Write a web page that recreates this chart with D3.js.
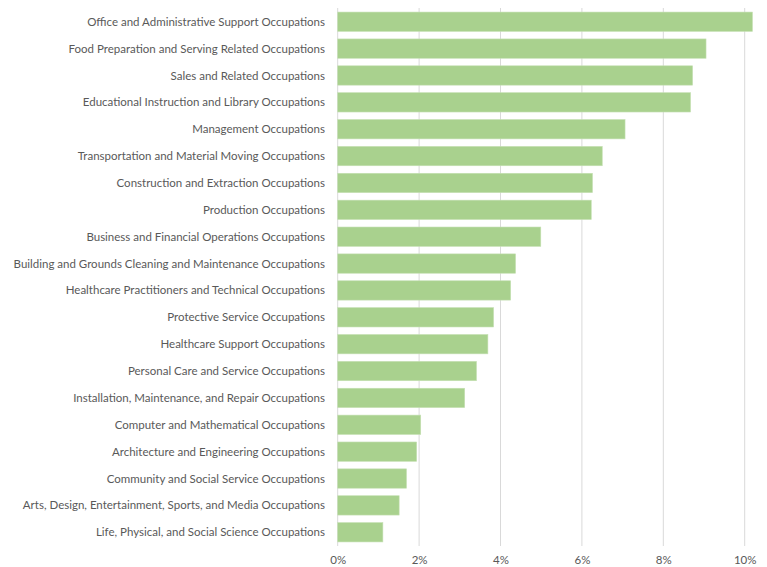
<!DOCTYPE html>
<html>
<head>
<meta charset="utf-8">
<script src="https://cdn.jsdelivr.net/npm/d3@7"></script>
<style>
  body { margin: 0; background: #fff; }
  svg text { font-family: Lato, "Open Sans", sans-serif; fill: #595959; }
</style>
</head>
<body>
<svg id="chart" width="767" height="567"></svg>
<script>
var occupations = [
  "Office and Administrative Support Occupations",
  "Food Preparation and Serving Related Occupations",
  "Sales and Related Occupations",
  "Educational Instruction and Library Occupations",
  "Management Occupations",
  "Transportation and Material Moving Occupations",
  "Construction and Extraction Occupations",
  "Production Occupations",
  "Business and Financial Operations Occupations",
  "Building and Grounds Cleaning and Maintenance Occupations",
  "Healthcare Practitioners and Technical Occupations",
  "Protective Service Occupations",
  "Healthcare Support Occupations",
  "Personal Care and Service Occupations",
  "Installation, Maintenance, and Repair Occupations",
  "Computer and Mathematical Occupations",
  "Architecture and Engineering Occupations",
  "Community and Social Service Occupations",
  "Arts, Design, Entertainment, Sports, and Media Occupations",
  "Life, Physical, and Social Science Occupations"
];

// share of employment, percent
var shares = [10.19, 9.05, 8.72, 8.67, 7.06, 6.50, 6.26, 6.23, 4.99, 4.37,
              4.25, 3.83, 3.69, 3.41, 3.12, 2.04, 1.94, 1.69, 1.51, 1.11];

var tickValues = [0, 2, 4, 6, 8, 10];

var svg = d3.select("#chart");

var x = d3.scaleLinear()
    .domain([0, 10])
    .range([337.7, 744.7]);

var y = d3.scaleBand()
    .domain(occupations)
    .range([8.3, 545.7])
    .paddingInner(0.28)
    .paddingOuter(0.14);

// gridlines
svg.append("g")
    .attr("class", "grid")
    .selectAll("line")
    .data(tickValues)
    .enter().append("line")
    .attr("x1", function(d) { return x(d); })
    .attr("x2", function(d) { return x(d); })
    .attr("y1", 8)
    .attr("y2", 546)
    .attr("stroke", "#d9d9d9")
    .attr("stroke-width", 1);

// bars
svg.append("g")
    .attr("class", "bars")
    .selectAll("rect")
    .data(occupations)
    .enter().append("rect")
    .attr("x", x(0))
    .attr("y", function(d) { return y(d); })
    .attr("width", function(d, i) { return x(shares[i]) - x(0); })
    .attr("height", y.bandwidth())
    .attr("fill", "#a9d18e")
    .attr("stroke", "#c5e0b3")
    .attr("stroke-width", 0.6);

// category labels
svg.append("g")
    .attr("class", "labels")
    .selectAll("text")
    .data(occupations)
    .enter().append("text")
    .attr("x", 325)
    .attr("y", function(d) { return y(d) + y.bandwidth() / 2; })
    .attr("dy", "0.35em")
    .attr("text-anchor", "end")
    .style("font-size", "11.5px")
    .text(function(d) { return d; });

// x axis labels
var xAxis = d3.axisBottom(x)
    .tickValues(tickValues)
    .tickSize(0)
    .tickPadding(0)
    .tickFormat(function(d) { return d + "%"; });

var ax = svg.append("g")
    .attr("transform", "translate(0,556)")
    .call(xAxis);
ax.select(".domain").remove();
ax.selectAll("text")
    .attr("dy", "0.71em")
    .style("font-size", "11.5px")
    .style("font-family", "Lato, 'Open Sans', sans-serif")
    .attr("fill", "#595959");
</script>
</body>
</html>
